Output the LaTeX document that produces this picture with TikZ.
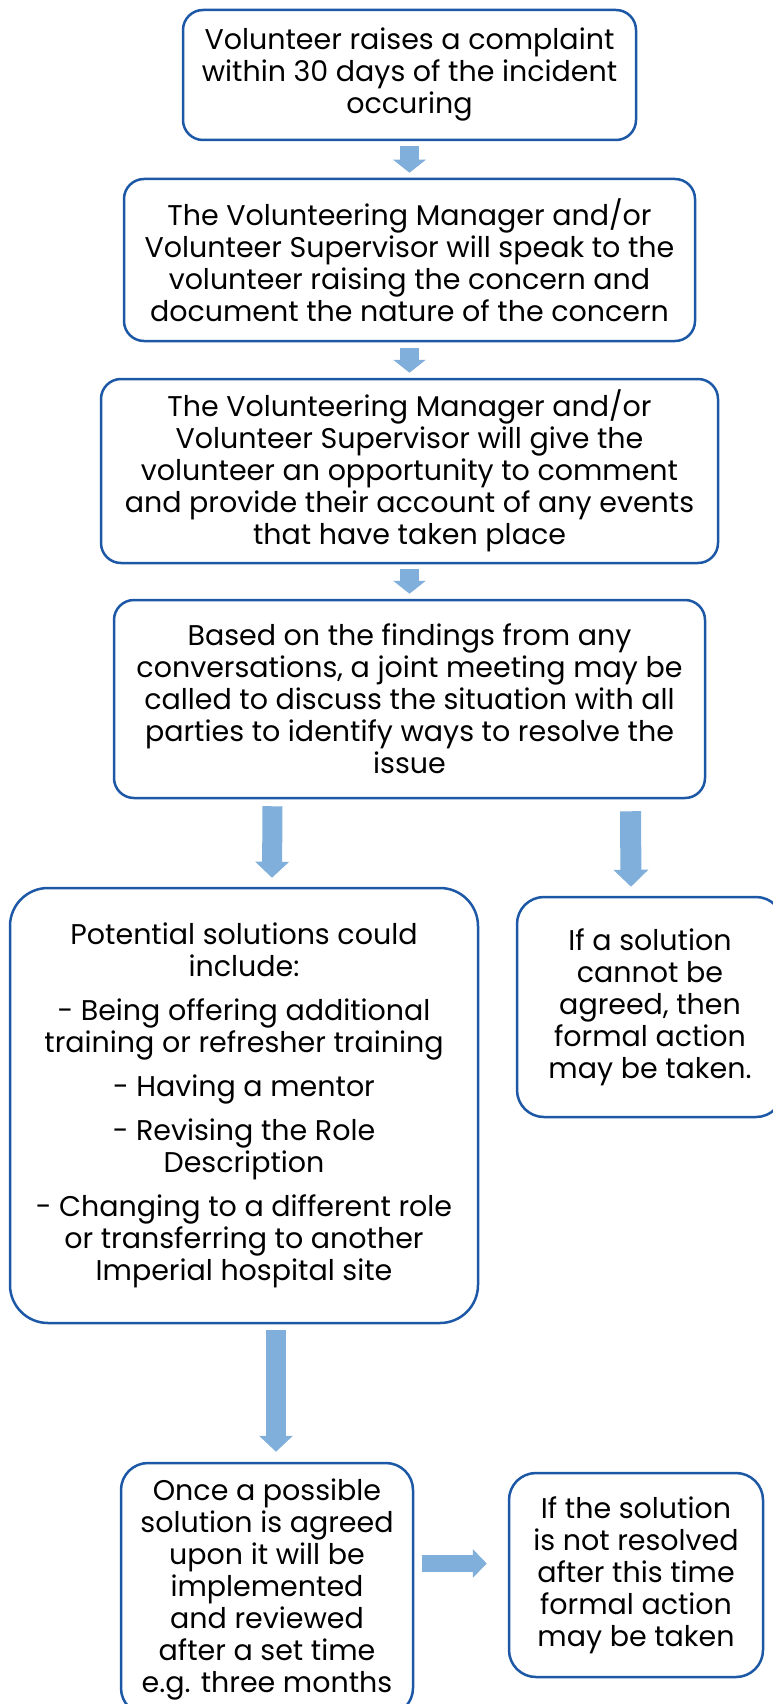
\documentclass[tikz,border=0pt]{standalone}
\usepackage{fontspec}
\setmainfont{Poppins}
\usetikzlibrary{arrows.meta}
\definecolor{boxblue}{RGB}{28,88,166}
\definecolor{flowblue}{RGB}{128,175,220}
\tikzset{
  stepbox/.style={draw=boxblue, line width=2.5pt, rounded corners=20pt, fill=white,
    align=center, inner sep=0pt, font=\fontsize{28.5}{32}\selectfont},
  flow/.style={draw=flowblue, line width=20pt,
    -{Triangle[width=33pt,length=16pt]}},
}
\begin{document}
\begin{tikzpicture}[x=1pt,y=-1pt]
        \useasboundingbox (0,0) rectangle (772,1704);

        \node[stepbox, minimum width=453pt, minimum height=130pt] (raise) at (409.5,75)
          {Volunteer raises a complaint\\within 30 days of the incident\\occuring};
        \node[stepbox, minimum width=571pt, minimum height=162pt] (speak) at (409.5,260)
          {The Volunteering Manager and/or\\Volunteer Supervisor will speak to the\\volunteer raising the concern and\\document the nature of the concern};
        \node[stepbox, minimum width=617pt, minimum height=184pt] (account) at (409.5,471)
          {The Volunteering Manager and/or\\Volunteer Supervisor will give the\\volunteer an opportunity to comment\\and provide their account of any events\\that have taken place};
        \node[stepbox, minimum width=591pt, minimum height=198pt] (meeting) at (409.5,699)
          {Based on the findings from any\\conversations, a joint meeting may be\\called to discuss the situation with all\\parties to identify ways to resolve the\\issue};

        \node[stepbox, rounded corners=38pt, minimum width=468pt, minimum height=435pt] (options) at (244,1105.5)
          {Potential solutions could\\include:\\[12pt]
           - Being offering additional\\training or refresher training\\[12pt]
           - Having a mentor\\[12pt]
           - Revising the Role\\Description\\[12pt]
           - Changing to a different role\\or transferring to another\\Imperial hospital site};
        \node[stepbox, rounded corners=27pt, minimum width=266pt, minimum height=220pt] (noagree) at (650,1007)
          {If a solution\\cannot be\\agreed, then\\formal action\\may be taken.};

        \node[stepbox, rounded corners=27pt, minimum width=292pt, minimum height=252pt] (review) at (267,1589)
          {Once a possible\\solution is agreed\\upon it will be\\implemented\\and reviewed\\after a set time\\e.g. three months};
        \node[stepbox, rounded corners=27pt, minimum width=254pt, minimum height=204pt] (unresolved) at (636,1575)
          {If the solution\\is not resolved\\after this time\\formal action\\may be taken};

        \draw[flow, line width=19pt, -{Triangle[width=32pt,length=13pt]}] ([yshift=-5pt]raise.south) -- ([yshift=5pt]speak.north);
        \draw[flow, line width=19pt, -{Triangle[width=32pt,length=13pt]}] ([yshift=-6pt]speak.south) -- ([yshift=5pt]account.north);
        \draw[flow, line width=19pt, -{Triangle[width=32pt,length=13pt]}] ([yshift=-5pt]account.south) -- ([yshift=5pt]meeting.north);
        \draw[flow] ([xshift=-137pt,yshift=-7pt]meeting.south) -- ([xshift=28pt,yshift=9pt]options.north);
        \draw[flow, line width=21pt, -{Triangle[width=34pt,length=17pt]}] ([xshift=221pt,yshift=-12pt]meeting.south) -- ([xshift=-19pt,yshift=9pt]noagree.north);
        \draw[flow] ([xshift=32pt,yshift=-6pt]options.south) -- ([xshift=9pt,yshift=10pt]review.north);
        \draw[flow, line width=17pt, -{Triangle[width=28pt,length=14pt]}] ([xshift=8pt,yshift=25.5pt]review.east) -- ([xshift=-21pt,yshift=11.5pt]unresolved.west);
\end{tikzpicture}
\end{document}
